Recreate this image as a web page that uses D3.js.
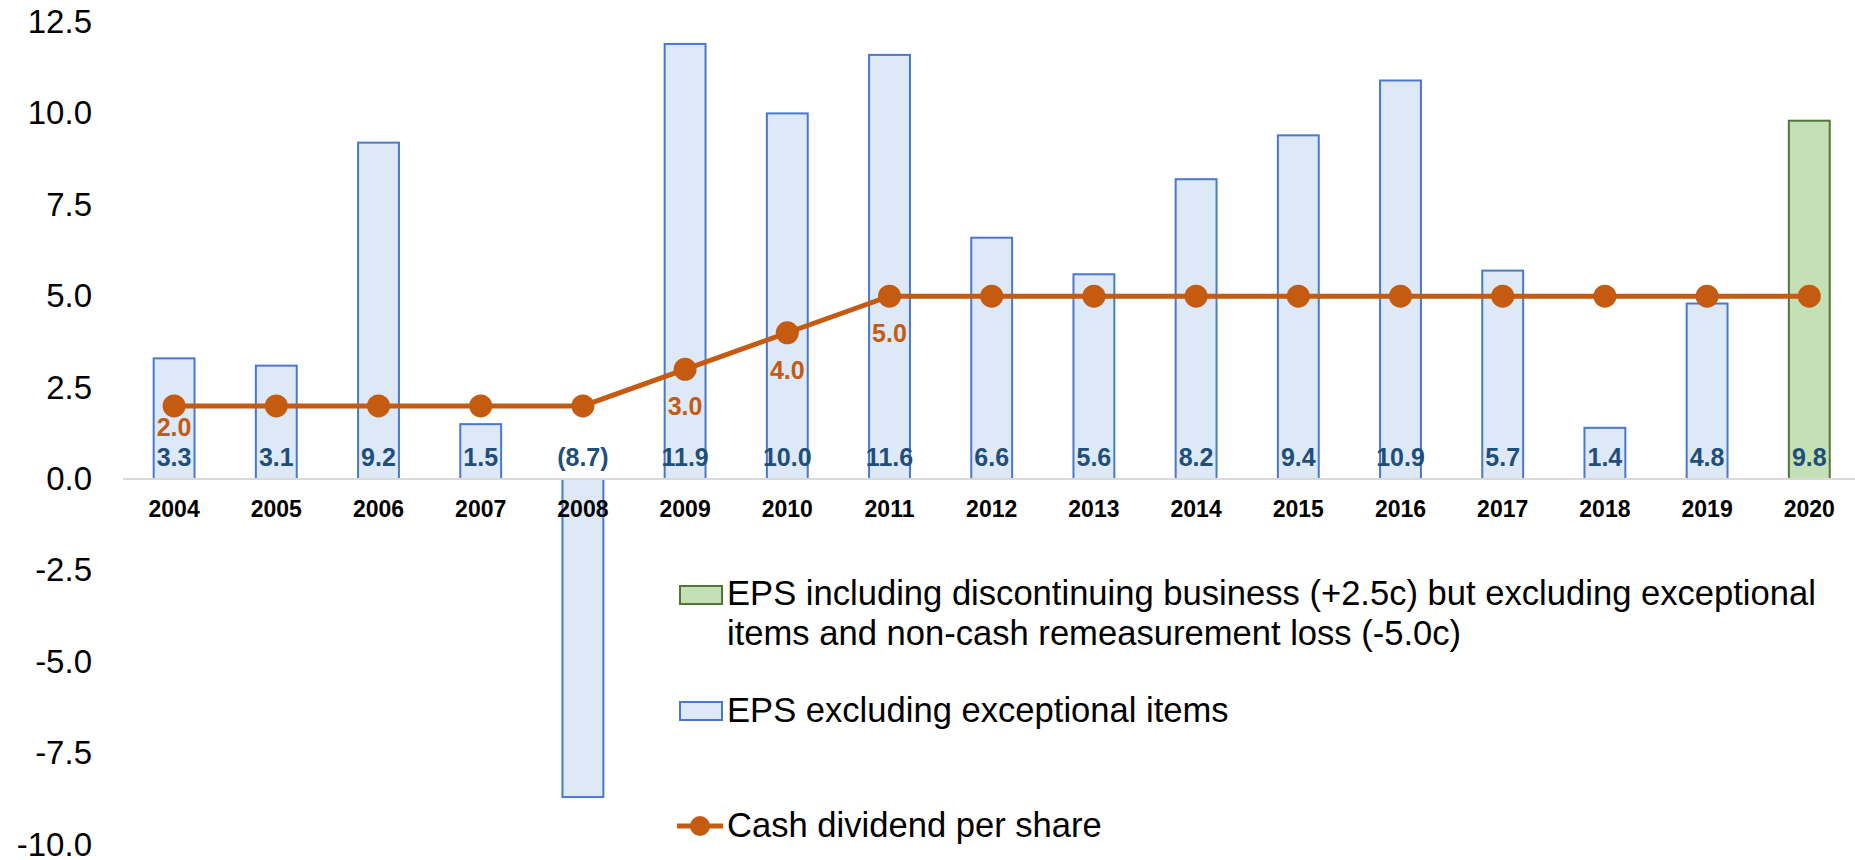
<!DOCTYPE html>
<html>
<head>
<meta charset="utf-8">
<script src="https://cdn.jsdelivr.net/npm/d3@7"></script>
<style>
  body { margin: 0; background: #fff; }
  svg { display: block; font-family: "Liberation Sans", Arial, sans-serif; }
</style>
</head>
<body>
<svg id="chart"></svg>
<script>
// chart data
const years = ['2004', '2005', '2006', '2007', '2008', '2009', '2010', '2011', '2012',
  '2013', '2014', '2015', '2016', '2017', '2018', '2019', '2020'];
const epsValues = [3.3, 3.1, 9.2, 1.5, -8.7, 11.9, 10.0, 11.6, 6.6, 5.6, 8.2, 9.4, 10.9, 5.7, 1.4, 4.8, 9.8];
const epsInclYears = ['2020'];
const dividendValues = [2, 2, 2, 2, 2, 3, 4, 5, 5, 5, 5, 5, 5, 5, 5, 5, 5];
const dividendLabelYears = ['2004', '2009', '2010', '2011'];
const yTicks = [-10, -7.5, -5, -2.5, 0, 2.5, 5, 7.5, 10, 12.5];
const legendLabels = [
  ['EPS including discontinuing business (+2.5c) but excluding exceptional',
   'items and non-cash remeasurement loss (-5.0c)'],
  ['EPS excluding exceptional items'],
  ['Cash dividend per share']
];

const width = 1855;
const height = 860;
const blueFill = '#dde9f6', blueStroke = '#4a78cc';
const greenFill = '#c5e0b4', greenStroke = '#52763a';
const orange = '#c55a11';
const labelBlue = '#1f4e79';

const svg = d3.select('#chart')
  .attr('width', width)
  .attr('height', height);

const x = d3.scaleBand()
  .domain(years)
  .range([123, 1860.4])
  .paddingInner(0.6)
  .paddingOuter(0.3);

const y = d3.scaleLinear()
  .domain([-10, 12.5])
  .range([844.6, 22]);

const fmt = d => d < 0 ? '(' + Math.abs(d).toFixed(1) + ')' : d.toFixed(1);

// y axis
const yAxis = svg.append('g')
  .attr('transform', 'translate(92,0)')
  .call(d3.axisLeft(y).tickValues(yTicks).tickSize(0).tickPadding(0)
    .tickFormat(d => d.toFixed(1)));
yAxis.select('.domain').remove();
yAxis.selectAll('text')
  .attr('fill', '#000')
  .attr('font-size', '33px')
  .attr('font-family', '"Liberation Sans", Arial, sans-serif');

// bars
svg.append('g').selectAll('rect')
  .data(years)
  .join('rect')
  .attr('x', d => x(d))
  .attr('width', x.bandwidth())
  .attr('y', (d, i) => y(Math.max(0, epsValues[i])))
  .attr('height', (d, i) => Math.abs(y(epsValues[i]) - y(0)))
  .attr('fill', d => epsInclYears.includes(d) ? greenFill : blueFill)
  .attr('stroke', d => epsInclYears.includes(d) ? greenStroke : blueStroke)
  .attr('stroke-width', 2);

// zero line / x axis
const xAxis = svg.append('g')
  .attr('transform', `translate(0,${y(0)})`)
  .call(d3.axisBottom(x).tickSize(0).tickPadding(22));
xAxis.select('.domain').remove();
xAxis.selectAll('text')
  .attr('fill', '#000')
  .attr('font-size', '23px')
  .attr('font-weight', 'bold')
  .attr('font-family', '"Liberation Sans", Arial, sans-serif');
svg.append('line')
  .attr('x1', 123).attr('x2', width)
  .attr('y1', y(0)).attr('y2', y(0))
  .attr('stroke', '#d9d9d9')
  .attr('stroke-width', 2);

// eps value labels
svg.append('g').selectAll('text')
  .data(years)
  .join('text')
  .attr('x', d => x(d) + x.bandwidth() / 2)
  .attr('y', y(0) - 13)
  .attr('text-anchor', 'middle')
  .attr('font-size', '25px')
  .attr('font-weight', 'bold')
  .attr('fill', labelBlue)
  .text((d, i) => fmt(epsValues[i]));

// dividend line
const cx = d => x(d) + x.bandwidth() / 2;
const line = d3.line()
  .x(d => cx(d))
  .y((d, i) => y(dividendValues[i]));

svg.append('path')
  .datum(years)
  .attr('d', line)
  .attr('fill', 'none')
  .attr('stroke', orange)
  .attr('stroke-width', 5);

svg.append('g').selectAll('circle')
  .data(years)
  .join('circle')
  .attr('cx', d => cx(d))
  .attr('cy', (d, i) => y(dividendValues[i]))
  .attr('r', 11.5)
  .attr('fill', orange);

svg.append('g').selectAll('text')
  .data(dividendLabelYears)
  .join('text')
  .attr('x', d => cx(d))
  .attr('y', (d, i) => y(dividendValues[years.indexOf(d)]) + (i === 0 ? 30 : 46))
  .attr('text-anchor', 'middle')
  .attr('font-size', '25px')
  .attr('font-weight', 'bold')
  .attr('fill', orange)
  .text(d => fmt(dividendValues[years.indexOf(d)]));

// legend
const legend = svg.append('g').attr('font-size', '34.6px').attr('fill', '#000');

legend.append('rect')
  .attr('x', 680).attr('y', 586).attr('width', 42).attr('height', 18)
  .attr('fill', greenFill).attr('stroke', greenStroke).attr('stroke-width', 2);
legend.append('rect')
  .attr('x', 680).attr('y', 702).attr('width', 42).attr('height', 18)
  .attr('fill', blueFill).attr('stroke', blueStroke).attr('stroke-width', 2);
legend.append('line')
  .attr('x1', 677).attr('x2', 723).attr('y1', 826).attr('y2', 826)
  .attr('stroke', orange).attr('stroke-width', 5);
legend.append('circle')
  .attr('cx', 700).attr('cy', 826).attr('r', 10).attr('fill', orange);

const legendBaselines = [[605, 645], [722], [837]];
legendLabels.forEach((lines, i) => {
  lines.forEach((t, j) => {
    legend.append('text')
      .attr('x', 727)
      .attr('y', legendBaselines[i][j])
      .text(t);
  });
});
</script>
</body>
</html>
